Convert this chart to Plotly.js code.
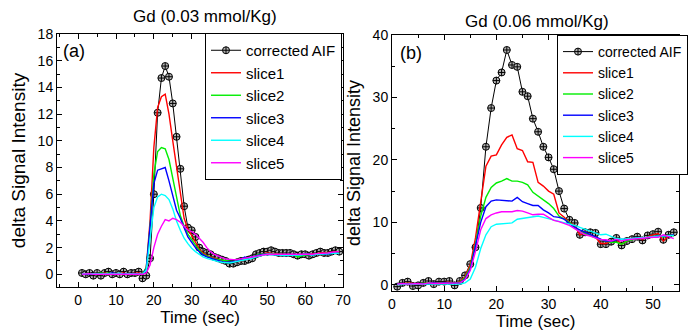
<!DOCTYPE html>
<html>
<head>
<meta charset="utf-8">
<script src="https://cdn.plot.ly/plotly-3.0.1.min.js"></script>
<style>html,body{margin:0;padding:0;background:#fff;}#chart{width:690px;height:333px;}</style>
</head>
<body>
<div id="chart"></div>
<script>
// ---- Panel (a): Gd 0.03 mmol/Kg ----
const timeA = [1,2,3,4,5,6,7,8,9,10,11,12,13,14,15,16,17,18,19,20,21,22,23,24,25,26,27,28,29,30,31,32,33,34,35,36,37,38,39,40,41,42,43,44,45,46,47,48,49,50,51,52,53,54,55,56,57,58,59,60,61,62,63,64,65,66,67,68,69];
const aifA = [0.1,0.0,0.1,-0.1,0.1,-0.1,0.1,0.2,0.0,0.1,0.0,0.2,0.0,0.1,0.1,0.2,-0.3,-0.1,1.2,6.0,12.1,14.7,15.6,14.8,12.8,10.3,7.9,5.1,3.5,3.3,2.8,2.0,1.7,1.6,1.5,1.3,1.2,1.1,1.0,0.8,0.8,0.9,1.0,1.0,1.1,1.2,1.5,1.6,1.7,1.7,1.8,1.7,1.6,1.6,1.6,1.6,1.5,1.4,1.5,1.5,1.4,1.5,1.6,1.7,1.6,1.6,1.7,1.8,1.7];
const slice1A = [0.0,0.05,0.0,0.05,0.0,0.0,0.1,0.05,0.0,0.05,0.05,0.1,0.0,0.05,0.05,0.1,0.0,0.5,4.0,9.5,12.5,13.3,13.5,12.0,10.0,8.0,6.0,4.2,3.4,2.9,2.3,1.9,1.6,1.4,1.3,1.2,1.1,1.05,1.0,0.95,0.9,1.0,1.0,1.1,1.2,1.3,1.4,1.5,1.55,1.6,1.6,1.55,1.5,1.5,1.5,1.45,1.4,1.45,1.5,1.5,1.5,1.5,1.55,1.6,1.6,1.6,1.65,1.7,1.7];
const slice2A = [0.05,0.0,0.05,0.0,0.05,0.1,0.05,0.1,0.05,0.0,0.05,0.05,0.1,0.05,0.0,0.05,0.05,0.5,3.5,7.5,9.2,9.5,9.4,8.6,7.2,5.6,4.4,3.6,3.0,2.6,2.2,1.8,1.5,1.35,1.25,1.15,1.1,1.05,1.0,0.95,0.95,1.0,1.05,1.1,1.2,1.3,1.4,1.5,1.5,1.55,1.55,1.5,1.5,1.45,1.45,1.5,1.45,1.3,1.4,1.45,1.5,1.45,1.5,1.5,1.55,1.6,1.6,1.65,1.6];
const slice3A = [0.0,0.0,0.05,0.05,0.0,0.05,0.0,0.05,0.1,0.05,0.0,0.05,0.05,0.0,0.05,0.05,0.0,0.4,3.5,6.8,7.8,7.9,8.0,7.0,5.8,4.8,4.2,3.5,2.8,2.4,2.0,1.7,1.45,1.3,1.2,1.1,1.0,0.95,0.9,0.9,0.95,1.0,1.1,1.3,1.2,1.3,1.4,1.45,1.5,1.5,1.5,1.45,1.5,1.45,1.4,1.45,1.4,1.45,1.45,1.5,1.5,1.45,1.5,1.55,1.5,1.55,1.6,1.6,1.55];
const slice4A = [0.05,0.05,0.0,0.05,0.05,0.0,0.05,0.0,0.05,0.05,0.1,0.0,0.05,0.05,0.0,0.05,0.0,0.3,2.5,5.0,5.8,6.0,5.9,5.6,4.9,4.0,3.3,2.7,2.3,1.95,1.7,1.5,1.3,1.2,1.1,1.0,0.95,0.9,0.85,0.85,0.9,0.95,1.0,1.1,1.15,1.2,1.3,1.4,1.45,1.5,1.5,1.45,1.45,1.4,1.4,1.45,1.4,1.4,1.45,1.5,1.45,1.45,1.5,1.5,1.55,1.5,1.55,1.6,1.55];
const slice5A = [0.0,0.05,0.05,0.0,0.0,0.05,0.05,0.0,0.05,0.0,0.05,0.05,0.0,0.0,0.05,0.0,0.0,0.1,0.7,2.0,3.0,3.6,4.1,4.0,4.2,4.1,3.9,3.6,3.3,3.2,3.0,2.7,2.4,2.0,1.7,1.5,1.35,1.25,1.15,1.1,1.1,1.1,1.15,1.2,1.25,1.3,1.4,1.45,1.5,1.5,1.5,1.5,1.5,1.5,1.5,1.45,1.45,1.45,1.5,1.5,1.5,1.5,1.55,1.55,1.6,1.6,1.65,1.65,1.7];

// ---- Panel (b): Gd 0.06 mmol/Kg ----
const timeB = [1,2,3,4,5,6,7,8,9,10,11,12,13,14,15,16,17,18,19,20,21,22,23,24,25,26,27,28,29,30,31,32,33,34,35,36,37,38,39,40,41,42,43,44,45,46,47,48,49,50,51,52,53,54];
const aifB = [-0.3,0.3,0.5,-0.2,-0.1,0.3,0.6,0.1,0.5,0.5,0.6,-0.1,0.6,1.5,3.3,6.0,12.3,22.1,28.3,32.7,34.0,37.6,35.2,34.9,30.9,30.2,26.6,24.5,22.1,20.4,18.5,15.0,12.2,10.4,9.9,8.0,8.4,8.4,8.3,6.5,6.5,6.9,7.5,6.3,7.0,7.3,7.7,7.1,7.9,8.1,8.5,7.2,8.0,8.4];
const slice1B = [0.0,0.2,0.3,0.2,0.1,0.2,0.3,0.3,0.3,0.4,0.4,0.2,0.5,1.3,3.2,7.5,13.5,19.0,20.6,20.8,22.4,23.6,24.0,21.8,21.5,19.7,19.6,16.4,15.8,15.0,14.5,11.5,10.8,10.0,9.5,8.0,8.3,8.0,7.6,6.6,6.6,7.0,7.2,6.5,7.0,7.3,7.5,7.2,7.7,8.0,8.2,7.0,7.8,8.0];
const slice2B = [0.1,0.2,0.2,0.1,0.2,0.2,0.3,0.2,0.3,0.3,0.3,0.2,0.4,1.1,2.8,6.5,11.0,14.0,15.6,16.3,16.6,17.0,16.6,16.6,16.4,16.0,14.8,14.2,13.5,13.0,12.2,11.0,10.5,10.0,9.2,8.5,8.2,7.8,7.5,7.2,7.0,6.8,6.8,6.5,7.0,7.2,7.4,7.4,7.6,7.8,7.9,7.7,7.8,7.9];
const slice3B = [0.1,0.1,0.2,0.2,0.1,0.2,0.2,0.3,0.2,0.3,0.2,0.2,0.3,0.9,2.5,6.0,10.0,12.5,13.4,13.6,13.5,13.5,13.4,14.0,13.3,13.0,12.7,12.7,12.0,11.5,10.9,10.8,10.5,9.8,9.2,8.8,8.4,8.0,7.6,7.3,7.0,7.0,7.2,7.3,7.2,7.3,7.5,7.4,7.6,7.7,7.8,7.8,7.8,8.0];
const slice4B = [0.0,0.1,0.1,0.1,0.1,0.1,0.2,0.2,0.1,0.2,0.2,0.1,0.1,0.3,0.9,2.8,5.8,8.0,9.3,9.7,9.8,9.8,9.9,10.5,10.6,10.7,10.8,11.0,10.8,10.6,10.4,10.2,10.0,9.8,9.5,9.2,8.9,8.6,8.3,8.0,8.1,7.8,7.4,7.3,7.3,7.4,7.5,7.5,7.6,7.7,7.8,7.9,7.9,7.9];
const slice5B = [0.1,0.2,0.1,0.2,0.2,0.1,0.3,0.2,0.2,0.3,0.3,0.2,0.3,0.8,2.3,5.3,8.8,10.6,11.2,11.5,11.7,11.7,11.7,11.9,11.8,11.5,11.2,11.3,11.3,10.8,10.3,10.1,9.8,9.5,9.0,8.5,8.0,7.8,7.5,7.2,7.2,7.0,7.3,7.0,7.2,7.3,7.3,7.4,7.5,7.6,7.6,8.0,7.7,7.4];

const seriesNames = ['corrected AIF','slice1','slice2','slice3','slice4','slice5'];
const seriesColors = ['#000000','#ff0000','#00ee00','#0000ff','#00ffff','#ff00ff'];

const FONT = 'Liberation Sans, Arial, sans-serif';

function panel(time, aif, slices, xa, ya, leg) {
  const tr = [];
  tr.push({
    x: time, y: aif, name: seriesNames[0], type: 'scatter', mode: 'lines+markers',
    xaxis: xa, yaxis: ya, legend: leg,
    line: {color: '#000', width: 1},
    marker: {symbol: 'circle-cross', size: 7, color: '#b4b4b4', line: {color: '#000', width: 1}}
  });
  slices.forEach((s, i) => {
    tr.push({
      x: time, y: s, name: seriesNames[i + 1], type: 'scatter', mode: 'lines',
      xaxis: xa, yaxis: ya, legend: leg,
      line: {color: seriesColors[i + 1], width: 1.4}
    });
  });
  return tr;
}

const data = [].concat(
  panel(timeA, aifA, [slice1A, slice2A, slice3A, slice4A, slice5A], 'x', 'y', 'legend'),
  panel(timeB, aifB, [slice1B, slice2B, slice3B, slice4B, slice5B], 'x2', 'y2', 'legend2')
);

const axBase = {
  showline: true, linecolor: '#000', linewidth: 1, mirror: 'allticks',
  ticks: 'inside', ticklen: 5, tickwidth: 1, tickcolor: '#000',
  showgrid: false, zeroline: false,
  tickfont: {family: FONT, size: 14, color: '#000'}
};

const layout = {
  width: 690, height: 333,
  margin: {l: 0, r: 0, t: 0, b: 0},
  paper_bgcolor: '#fff', plot_bgcolor: '#fff',
  font: {family: FONT, color: '#000'},
  showlegend: true,
  xaxis: Object.assign({}, axBase, {
    domain: [57/690, 343/690], range: [-5.6, 70], dtick: 10, tick0: 0,
    minor: {dtick: 5, ticks: 'inside', ticklen: 3, tickcolor: '#000'},
    anchor: 'y',
    title: {text: 'Time (sec)', font: {family: FONT, size: 17}, standoff: 4}
  }),
  yaxis: Object.assign({}, axBase, {
    domain: [46/333, 299/333], range: [-0.95, 18], dtick: 2, tick0: 0,
    minor: {dtick: 1, ticks: 'inside', ticklen: 3, tickcolor: '#000'},
    anchor: 'x',
    title: {text: 'delta Signal Intensity', font: {family: FONT, size: 19}, standoff: 6}
  }),
  xaxis2: Object.assign({}, axBase, {
    domain: [392/690, 679/690], range: [0, 55], dtick: 10, tick0: 0,
    minor: {dtick: 5, ticks: 'inside', ticklen: 3, tickcolor: '#000'},
    anchor: 'y2',
    title: {text: 'Time (sec)', font: {family: FONT, size: 17}, standoff: 4}
  }),
  yaxis2: Object.assign({}, axBase, {
    domain: [42/333, 298/333], range: [-1, 40], dtick: 10, tick0: 0,
    minor: {dtick: 5, ticks: 'inside', ticklen: 3, tickcolor: '#000'},
    anchor: 'x2',
    title: {text: 'delta Signal Intensity', font: {family: FONT, size: 18}, standoff: 7}
  }),
  legend: {
    x: 205/690, y: 300/333, xanchor: 'left', yanchor: 'top',
    bgcolor: '#fff', bordercolor: '#000', borderwidth: 1,
    font: {family: FONT, size: 15, color: '#000'},
    itemwidth: 30, tracegroupgap: 0
  },
  legend2: {
    x: 557/690, y: 298/333, xanchor: 'left', yanchor: 'top',
    bgcolor: '#fff', bordercolor: '#000', borderwidth: 1,
    font: {family: FONT, size: 14, color: '#000'},
    itemwidth: 30, tracegroupgap: 0
  },
  annotations: [
    {text: 'Gd (0.03 mmol/Kg)', xref: 'paper', yref: 'paper', x: 205/690, y: (333-17)/333,
     xanchor: 'center', yanchor: 'middle', showarrow: false, font: {family: FONT, size: 17}},
    {text: 'Gd (0.06 mmol/Kg)', xref: 'paper', yref: 'paper', x: 537/690, y: (333-22)/333,
     xanchor: 'center', yanchor: 'middle', showarrow: false, font: {family: FONT, size: 17}},
    {text: '(a)', xref: 'paper', yref: 'paper', x: 74/690, y: (333-51)/333,
     xanchor: 'center', yanchor: 'middle', showarrow: false, font: {family: FONT, size: 18}},
    {text: '(b)', xref: 'paper', yref: 'paper', x: 411/690, y: (333-53)/333,
     xanchor: 'center', yanchor: 'middle', showarrow: false, font: {family: FONT, size: 18}}
  ]
};

Plotly.newPlot('chart', data, layout, {displayModeBar: false, staticPlot: true});
</script>
</body>
</html>
